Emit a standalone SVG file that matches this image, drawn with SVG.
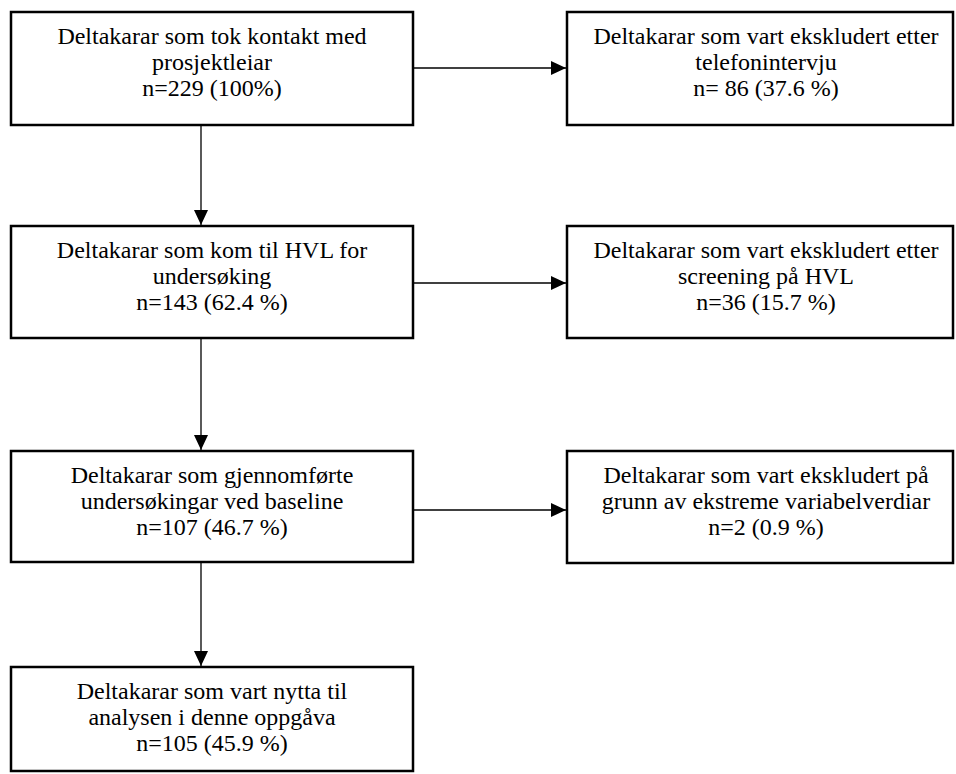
<svg xmlns="http://www.w3.org/2000/svg" width="956" height="774" viewBox="0 0 956 774">
<defs>
<marker id="ah" markerWidth="15" markerHeight="14" refX="15" refY="7" orient="auto" markerUnits="userSpaceOnUse">
<path d="M0,0 L15,7 L0,14 Z" fill="#000"/>
</marker>
<style>
.box{fill:#fff;stroke:#000;stroke-width:2.5}
.t{font-family:"Liberation Serif","Times New Roman",serif;font-size:24px;fill:#000;text-anchor:middle}
.c{stroke:#000;stroke-width:1.3;fill:none}
</style>
</defs>
<rect width="956" height="774" fill="#fff"/>
<g id="n1">
<rect class="box" x="11" y="12" width="402" height="113"/>
<text class="t" x="212" y="44">Deltakarar som tok kontakt med</text>
<text class="t" x="212" y="70">prosjektleiar</text>
<text class="t" x="212" y="96">n=229 (100%)</text>
</g>
<g id="n2">
<rect class="box" x="567" y="12" width="386" height="113"/>
<text class="t" x="766" y="44">Deltakarar som vart ekskludert etter</text>
<text class="t" x="766" y="70">telefonintervju</text>
<text class="t" x="766" y="96">n= 86 (37.6 %)</text>
</g>
<g id="n3">
<rect class="box" x="11" y="226" width="402" height="112"/>
<text class="t" x="212" y="258">Deltakarar som kom til HVL for</text>
<text class="t" x="212" y="284">undersøking</text>
<text class="t" x="212" y="310">n=143 (62.4 %)</text>
</g>
<g id="n4">
<rect class="box" x="567" y="226" width="386" height="112"/>
<text class="t" x="766" y="258">Deltakarar som vart ekskludert etter</text>
<text class="t" x="766" y="284">screening på HVL</text>
<text class="t" x="766" y="310">n=36 (15.7 %)</text>
</g>
<g id="n5">
<rect class="box" x="11" y="451" width="402" height="111"/>
<text class="t" x="212" y="483">Deltakarar som gjennomførte</text>
<text class="t" x="212" y="509">undersøkingar ved baseline</text>
<text class="t" x="212" y="535">n=107 (46.7 %)</text>
</g>
<g id="n6">
<rect class="box" x="567" y="451" width="386" height="112"/>
<text class="t" x="766" y="483">Deltakarar som vart ekskludert på</text>
<text class="t" x="766" y="509">grunn av ekstreme variabelverdiar</text>
<text class="t" x="766" y="535">n=2 (0.9 %)</text>
</g>
<g id="n7">
<rect class="box" x="11" y="667" width="402" height="104"/>
<text class="t" x="212" y="699">Deltakarar som vart nytta til</text>
<text class="t" x="212" y="725">analysen i denne oppgåva</text>
<text class="t" x="212" y="751">n=105 (45.9 %)</text>
</g>
<g id="connectors">
<line class="c" x1="413" y1="68" x2="566" y2="68" marker-end="url(#ah)"/>
<line class="c" x1="201" y1="125" x2="201" y2="225" marker-end="url(#ah)"/>
<line class="c" x1="413" y1="283" x2="566" y2="283" marker-end="url(#ah)"/>
<line class="c" x1="201" y1="338" x2="201" y2="450" marker-end="url(#ah)"/>
<line class="c" x1="413" y1="510" x2="566" y2="510" marker-end="url(#ah)"/>
<line class="c" x1="201" y1="562" x2="201" y2="666" marker-end="url(#ah)"/>
</g>
</svg>
